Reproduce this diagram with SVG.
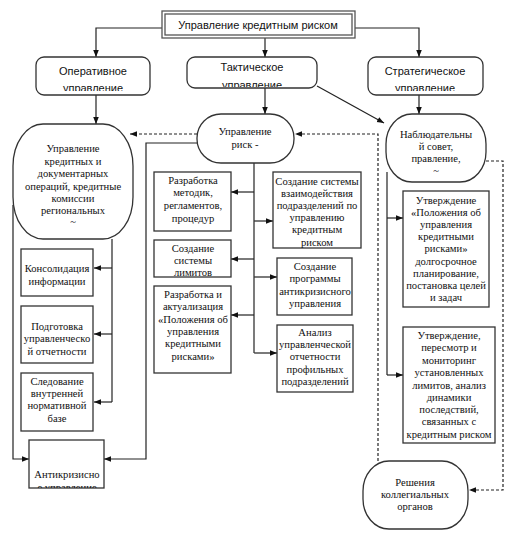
<svg xmlns="http://www.w3.org/2000/svg" width="511" height="536" viewBox="0 0 511 536">
<style>
.bg{fill:#fff}
.box{fill:#fff;stroke:#333;stroke-width:1.3}
.rbox{fill:#fff;stroke:#333;stroke-width:1.3}
.ln{fill:none;stroke:#222;stroke-width:1.2}
.dash{fill:none;stroke:#222;stroke-width:1.2;stroke-dasharray:3,2}
.s{font-family:"Liberation Sans",Arial,sans-serif;font-size:11px;fill:#111;text-anchor:middle}
.t{font-family:"Liberation Serif","Times New Roman",serif;font-size:10.6px;fill:#111;text-anchor:middle}
</style>
<defs>
<marker id="ah" viewBox="0 0 10 10" refX="10" refY="5" markerWidth="7" markerHeight="7" orient="auto" markerUnits="userSpaceOnUse">
<path d="M0,1 L10,5 L0,9 z" fill="#111"/>
</marker>
<clipPath id="c1"><rect x="36" y="57" width="114" height="34"/></clipPath>
<clipPath id="c2"><rect x="187" y="57" width="130" height="30"/></clipPath>
<clipPath id="c3"><rect x="368" y="57" width="115" height="34"/></clipPath>
<clipPath id="c4"><rect x="29" y="440" width="75" height="48"/></clipPath>
</defs>
<rect class="bg" x="0" y="0" width="511" height="536"/>

<g id="connectors">
<path class="ln" d="M162,28 H96 V57" marker-end="url(#ah)"/>
<path class="ln" d="M265,38 V57" marker-end="url(#ah)"/>
<path class="ln" d="M355,28 H419 V57" marker-end="url(#ah)"/>
<path class="ln" d="M96,95 V124" marker-end="url(#ah)"/>
<path class="ln" d="M265,88 V114" marker-end="url(#ah)"/>
<path class="ln" d="M317,86 L384,123" marker-end="url(#ah)"/>
<path class="ln" d="M419,95 V114" marker-end="url(#ah)"/>
<path class="dash" d="M197,134 H130" marker-end="url(#ah)"/>
<path class="dash" d="M378,461 V134 H295" marker-end="url(#ah)"/>
<path class="dash" d="M486,161 H503 V490 H469" marker-end="url(#ah)"/>
<path class="ln" d="M112,239 V402"/>
<path class="ln" d="M112,268 H94" marker-end="url(#ah)"/>
<path class="ln" d="M112,334 H94" marker-end="url(#ah)"/>
<path class="ln" d="M112,402 H94" marker-end="url(#ah)"/>
<path class="ln" d="M13,205 V459 H29" marker-end="url(#ah)"/>
<path class="ln" d="M197,143 H146 V459 H104" marker-end="url(#ah)"/>
<path class="ln" d="M254,163 V353"/>
<path class="ln" d="M254,192 H231" marker-end="url(#ah)"/>
<path class="ln" d="M254,259 H231" marker-end="url(#ah)"/>
<path class="ln" d="M254,315 H231" marker-end="url(#ah)"/>
<path class="ln" d="M254,221 H273" marker-end="url(#ah)"/>
<path class="ln" d="M254,277 H277" marker-end="url(#ah)"/>
<path class="ln" d="M254,353 H277" marker-end="url(#ah)"/>
<path class="ln" d="M387,172 V375"/>
<path class="ln" d="M387,218 H403" marker-end="url(#ah)"/>
<path class="ln" d="M387,375 H403" marker-end="url(#ah)"/>
</g>

<g id="n-root">
<rect x="162" y="11" width="193" height="27" fill="#fff" stroke="#555" stroke-width="1.3"/>
<rect x="165" y="14" width="187" height="21" fill="#fff" stroke="#555" stroke-width="1.3"/>
<text class="s" x="258" y="29">Управление кредитным риском</text>
</g>

<g id="n-oper">
<rect class="rbox" x="36" y="57" width="114" height="38" rx="8"/>
<g clip-path="url(#c1)">
<text class="s" x="93" y="75">Оперативное</text>
<text class="s" x="93" y="92">управление</text>
</g>
</g>

<g id="n-takt">
<rect class="rbox" x="187" y="57" width="130" height="31" rx="8"/>
<g clip-path="url(#c2)">
<text class="s" x="252" y="71">Тактическое</text>
<text class="s" x="252" y="89">управление</text>
</g>
</g>

<g id="n-strat">
<rect class="rbox" x="368" y="57" width="115" height="38" rx="8"/>
<g clip-path="url(#c3)">
<text class="s" x="425" y="75">Стратегическое</text>
<text class="s" x="425" y="92">управление</text>
</g>
</g>

<g id="n-credops">
<rect class="rbox" x="13" y="124" width="120" height="115" rx="30" ry="42"/>
<text class="t" x="73" y="152">Управление</text>
<text class="t" x="73" y="165">кредитных и</text>
<text class="t" x="73" y="177">документарных</text>
<text class="t" x="73" y="190">операций, кредитные</text>
<text class="t" x="73" y="202">комиссии</text>
<text class="t" x="73" y="214">региональных</text>
<text class="t" x="73" y="225" font-size="8">~</text>
</g>

<g id="n-riskmgmt">
<rect class="rbox" x="197" y="114" width="97" height="49" rx="24" ry="24"/>
<text class="t" x="245" y="135">Управление</text>
<text class="t" x="245" y="148">риск -</text>
</g>

<g id="n-board">
<rect class="rbox" x="386" y="114" width="100" height="68" rx="26" ry="30"/>
<text class="t" x="436" y="138">Наблюдательны</text>
<text class="t" x="436" y="150">й совет,</text>
<text class="t" x="436" y="162">правление,</text>
<text class="t" x="436" y="174" font-size="8">~</text>
</g>

<g id="n-method">
<rect class="box" x="154" y="172" width="77" height="59"/>
<text class="t" x="193" y="184">Разработка</text>
<text class="t" x="193" y="196">методик,</text>
<text class="t" x="193" y="209">регламентов,</text>
<text class="t" x="193" y="222">процедур</text>
</g>

<g id="n-limits">
<rect class="box" x="154" y="240" width="77" height="37"/>
<text class="t" x="193" y="252">Создание</text>
<text class="t" x="193" y="264">системы</text>
<text class="t" x="193" y="276">лимитов</text>
</g>

<g id="n-polozh">
<rect class="box" x="154" y="286" width="77" height="87"/>
<text class="t" x="193" y="298">Разработка и</text>
<text class="t" x="193" y="310">актуализация</text>
<text class="t" x="193" y="323">«Положения об</text>
<text class="t" x="193" y="335">управления</text>
<text class="t" x="193" y="347">кредитными</text>
<text class="t" x="193" y="360">рисками»</text>
</g>

<g id="n-interact">
<rect class="box" x="273" y="172" width="88" height="76"/>
<text class="t" x="317" y="185">Создание системы</text>
<text class="t" x="317" y="197">взаимодействия</text>
<text class="t" x="317" y="209">подразделений по</text>
<text class="t" x="317" y="221">управлению</text>
<text class="t" x="317" y="233">кредитным</text>
<text class="t" x="317" y="246">риском</text>
</g>

<g id="n-anticrisisprog">
<rect class="box" x="277" y="258" width="75" height="57"/>
<text class="t" x="315" y="270">Создание</text>
<text class="t" x="315" y="282">программы</text>
<text class="t" x="315" y="295">антикризисного</text>
<text class="t" x="315" y="307">управления</text>
</g>

<g id="n-analysis">
<rect class="box" x="277" y="325" width="76" height="67"/>
<text class="t" x="315" y="336">Анализ</text>
<text class="t" x="315" y="348">управленческой</text>
<text class="t" x="315" y="360">отчетности</text>
<text class="t" x="315" y="373">профильных</text>
<text class="t" x="315" y="385">подразделений</text>
</g>

<g id="n-approve1">
<rect class="box" x="403" y="191" width="86" height="116"/>
<text class="t" x="446" y="204">Утверждение</text>
<text class="t" x="446" y="216">«Положения об</text>
<text class="t" x="446" y="228">управления</text>
<text class="t" x="446" y="240">кредитными</text>
<text class="t" x="446" y="252">рисками»</text>
<text class="t" x="446" y="265">долгосрочное</text>
<text class="t" x="446" y="277">планирование,</text>
<text class="t" x="446" y="289">постановка целей</text>
<text class="t" x="446" y="301">и задач</text>
</g>

<g id="n-approve2">
<rect class="box" x="403" y="327" width="92" height="116"/>
<text class="t" x="449" y="339">Утверждение,</text>
<text class="t" x="449" y="351">пересмотр и</text>
<text class="t" x="449" y="364">мониторинг</text>
<text class="t" x="449" y="376">установленных</text>
<text class="t" x="449" y="389">лимитов, анализ</text>
<text class="t" x="449" y="401">динамики</text>
<text class="t" x="449" y="413">последствий,</text>
<text class="t" x="449" y="425">связанных с</text>
<text class="t" x="449" y="438">кредитным риском</text>
</g>

<g id="n-consol">
<rect class="box" x="21" y="249" width="72" height="47"/>
<text class="t" x="57" y="272">Консолидация</text>
<text class="t" x="57" y="285">информации</text>
</g>

<g id="n-report">
<rect class="box" x="21" y="306" width="72" height="57"/>
<text class="t" x="57" y="330">Подготовка</text>
<text class="t" x="57" y="342">управленческо</text>
<text class="t" x="57" y="355">й отчетности</text>
</g>

<g id="n-norm">
<rect class="box" x="21" y="373" width="72" height="58"/>
<text class="t" x="57" y="385">Следование</text>
<text class="t" x="57" y="397">внутренней</text>
<text class="t" x="57" y="409">нормативной</text>
<text class="t" x="57" y="422">базе</text>
</g>

<g id="n-anticrisis">
<rect class="box" x="29" y="440" width="75" height="48"/>
<g clip-path="url(#c4)">
<text class="t" x="67" y="478" font-size="11.5">Антикризисно</text>
<text class="t" x="67" y="491" font-size="11.5">е управление</text>
</g>
</g>

<g id="n-decisions">
<rect class="rbox" x="363" y="461" width="105" height="68" rx="26" ry="30"/>
<text class="t" x="415" y="486">Решения</text>
<text class="t" x="415" y="498">коллегиальных</text>
<text class="t" x="415" y="510">органов</text>
</g>
</svg>
